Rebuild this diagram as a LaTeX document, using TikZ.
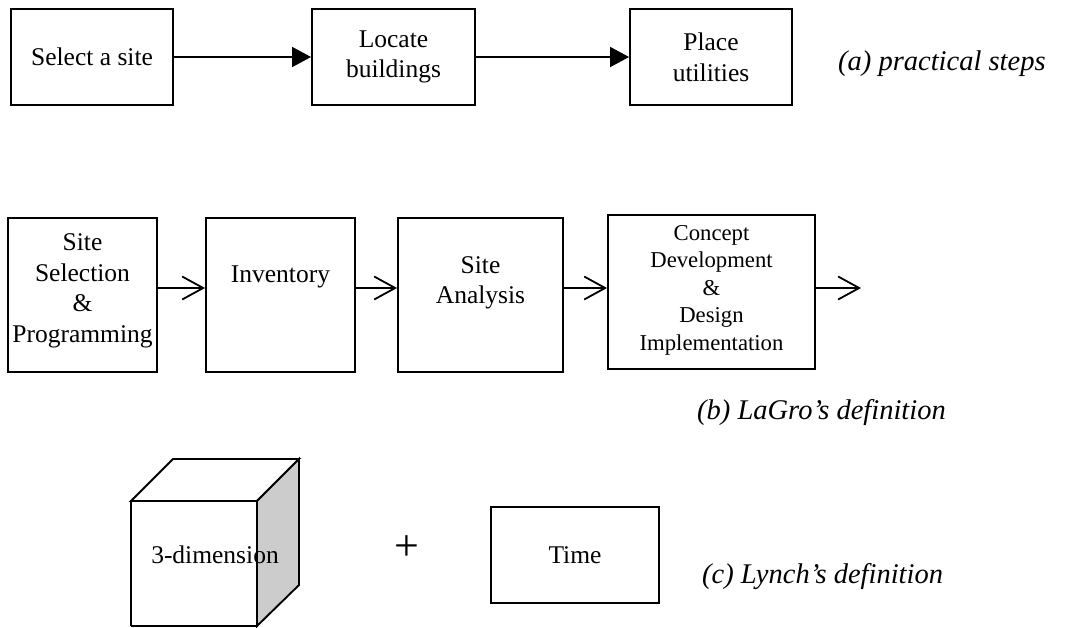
\documentclass[tikz,border=0pt]{standalone}
\usepackage{fontspec}
\setmainfont{Liberation Serif}
\usetikzlibrary{arrows.meta}
\begin{document}
\begin{tikzpicture}[x=1pt,y=-1pt,
  box/.style={draw, line width=1.9pt, inner sep=0pt, align=center, font=\fontsize{25.5}{30.6}\selectfont},
  txt/.style={inner sep=0pt, align=center, font=\fontsize{25.5}{30.6}\selectfont},
  small/.style={inner sep=0pt, align=center, font=\fontsize{22.7}{27.5}\selectfont},
  captxt/.style={inner sep=0pt, anchor=west, font=\fontsize{28.5}{34}\selectfont\itshape},
  farrow/.style={line width=1.8pt, -{Triangle[length=19pt,width=20pt]}},
  oarrow/.style={line width=1.8pt, -{Straight Barb[length=21pt,width=23pt,line width=1.8pt]}}
]
\useasboundingbox (0,0) rectangle (1076,627);
% (a)
\node[box, minimum width=162pt, minimum height=96pt] (A1) at (92,57) {Select a site};
\node[box, minimum width=163pt, minimum height=96pt] (A2) at (393.5,57) {Locate\\buildings};
\node[box, minimum width=162pt, minimum height=96pt] (A3) at (711,57) {Place\\utilities};
\draw[farrow] (A1) -- (A2);
\draw[farrow] (A2) -- (A3);
\node[captxt] (capa) at (838,64) {(a) practical steps};
% (b)
\node[box, minimum width=149pt, minimum height=154pt] (B1) at (82.5,295) {};
\node[txt] (B1t) at (82.5,291) {Site\\Selection\\\&\\Programming};
\node[box, minimum width=149pt, minimum height=154pt] (B2) at (280.5,295) {};
\node[txt] (B2t) at (280.5,277) {Inventory};
\node[box, minimum width=165pt, minimum height=154pt] (B3) at (480.5,295) {};
\node[txt] (B3t) at (480.5,283) {Site\\Analysis};
\node[box, minimum width=207pt, minimum height=154pt] (B4) at (711.5,292) {};
\node[small] (B4t) at (711.5,290) {Concept\\Development\\\&\\Design\\Implementation};
\coordinate (Bend) at (861,288);
\draw[oarrow] ([yshift=7pt]B1.east) -- ([yshift=7pt]B2.west);
\draw[oarrow] ([yshift=7pt]B2.east) -- ([yshift=7pt]B3.west);
\draw[oarrow] ([yshift=7pt]B3.east) -- ([yshift=4pt]B4.west);
\draw[oarrow] ([yshift=4pt]B4.east) -- (Bend);
\node[captxt] (capb) at (697,412) {(b) LaGro’s definition};
% (c)
\draw[line width=1.9pt, fill=white] (131,501) -- (173,459) -- (299,459) -- (257,501) -- cycle;
\draw[line width=1.9pt, fill=black!20] (257,501) -- (299,459) -- (299,585) -- (257,626) -- cycle;
\draw[line width=1.9pt] (131,626) -- (131,501) -- (257,501) -- (257,626) -- (131,626);
\node[txt] (cube) at (215,555) {3-dimension};
\node[inner sep=0pt, font=\fontsize{44}{44}\selectfont] (plus) at (407,548) {+};
\node[box, minimum width=168pt, minimum height=96pt] (T) at (575,555) {Time};
\node[captxt] (capc) at (702,577) {(c) Lynch’s definition};
\end{tikzpicture}
\end{document}
